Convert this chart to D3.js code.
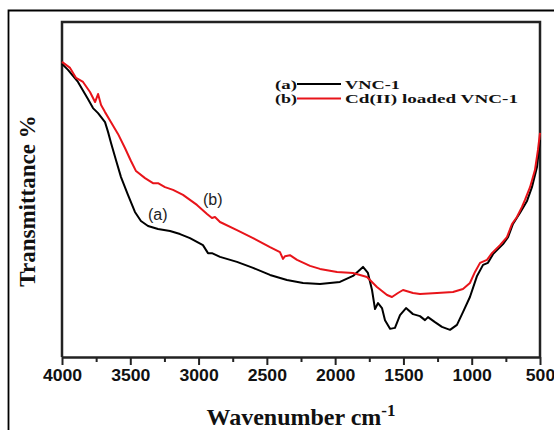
<!DOCTYPE html>
<html><head><meta charset="utf-8">
<script src="https://cdn.jsdelivr.net/npm/d3@7/dist/d3.min.js"></script>
<style>body{margin:0;background:#fff}svg{display:block}</style>
</head><body>
<svg id="c" width="554" height="430"></svg>
<script>
// Wavenumber (cm-1) and relative transmittance
const wnA = [4000,3956,3883,3810,3773,3736,3685,3663,3641,3605,3568,3517,3466,3422,3370,3297,3209,3136,3063,2968,2931,2902,2843,2719,2601,2477,2353,2235,2111,1965,1869,1796,1760,1730,1708,1686,1657,1635,1598,1562,1525,1481,1430,1379,1342,1320,1269,1218,1159,1108,1064,1013,961,917,881,844,771,734,698,647,595,559,522,500];
const tA  = [87.5,85.7,82.1,77.0,74.3,72.8,70.1,67.2,63.9,58.8,53.7,48.4,43.3,40.6,39.1,38.2,37.6,36.7,35.5,33.4,31.0,31.0,29.9,28.4,26.6,24.5,23.0,22.1,21.8,22.4,24.2,26.9,25.1,20.0,14.3,16.1,14.6,11.0,8.4,8.7,12.5,14.6,12.8,12.2,11.0,11.9,10.4,9.0,8.1,9.6,13.4,17.9,24.2,27.5,28.1,30.7,33.7,35.8,39.7,43.0,46.6,50.7,56.7,64.8];
const wnB = [4000,3941,3897,3846,3795,3758,3736,3714,3685,3641,3590,3539,3495,3458,3392,3334,3297,3246,3187,3114,3012,2938,2902,2880,2843,2719,2601,2477,2404,2382,2367,2331,2279,2184,2111,1986,1869,1767,1694,1620,1584,1540,1503,1430,1379,1254,1137,1064,1013,976,939,888,852,793,742,705,669,632,610,573,537,515,500];
const tB  = [88.1,86.3,83.3,82.1,79.1,76.1,78.5,75.2,73.1,70.1,66.6,62.4,58.5,55.5,53.4,51.9,51.9,50.7,49.9,48.4,45.4,42.7,41.5,41.8,40.3,37.9,35.5,32.8,31.3,29.3,30.1,30.4,29.0,27.2,26.3,25.4,25.1,23.9,20.9,18.5,17.9,19.1,20.0,19.1,18.8,19.1,19.4,20.3,22.1,25.4,28.1,29.0,31.0,33.4,35.8,39.7,41.8,44.8,46.9,50.7,55.8,61.8,66.9];
const xTicks = [4000,3500,3000,2500,2000,1500,1000,500];
const xMinor = [3750,3250,2750,2250,1750,1250,750];
const legendLabels = ["(a)", "(b)"];
const legendNames = ["VNC-1", "Cd(II) loaded VNC-1"];
const seriesColors = ["#000000", "#e8141a"];

const svg = d3.select("#c");
const L = 62, R = 540, T = 22, B = 357;
const x = d3.scaleLinear().domain([4000, 500]).range([L, R]);
const y = d3.scaleLinear().domain([0, 100]).range([B, T]);

// outer frame
svg.append("path").attr("d", "M8.5,431 L8.5,10.5 L555,10.5")
  .attr("fill", "none").attr("stroke", "#000").attr("stroke-width", 1.8);

// plot box (left, top, right)
svg.append("path").attr("d", `M${L},${B} L${L},${T} L${R},${T} L${R},${B}`)
  .attr("fill", "none").attr("stroke", "#222").attr("stroke-width", 2.5);

// bottom axis
const ax = svg.append("g").attr("transform", `translate(0,${B})`)
  .call(d3.axisBottom(x).tickValues(xTicks).tickSize(8).tickSizeOuter(0).tickPadding(5).tickFormat(d3.format("d")));
ax.select(".domain").attr("stroke", "#222").attr("stroke-width", 2.5);
ax.selectAll(".tick line").attr("stroke", "#222").attr("stroke-width", 2);
ax.selectAll(".tick text").attr("font-family", "'Liberation Sans', Arial, sans-serif")
  .attr("font-weight", "bold").attr("font-size", 16).attr("fill", "#111")
  .attr("textLength", d => String(d).length * 9.8).attr("lengthAdjust", "spacingAndGlyphs");
const axm = svg.append("g").attr("transform", `translate(0,${B})`)
  .call(d3.axisBottom(x).tickValues(xMinor).tickSize(5).tickFormat(""));
axm.select(".domain").remove();
axm.selectAll(".tick line").attr("stroke", "#222").attr("stroke-width", 2);

// curves
const line = d3.line().x(d => x(d[0])).y(d => y(d[1]));
const dataA = wnA.map((w, i) => [w, tA[i]]);
const dataB = wnB.map((w, i) => [w, tB[i]]);
svg.append("path").datum(dataA).attr("d", line).attr("fill", "none")
  .attr("stroke", seriesColors[0]).attr("stroke-width", 2).attr("stroke-linejoin", "round");
svg.append("path").datum(dataB).attr("d", line).attr("fill", "none")
  .attr("stroke", seriesColors[1]).attr("stroke-width", 2).attr("stroke-linejoin", "round");

// annotations
svg.append("text").attr("x", 148).attr("y", 220).text("(a)")
  .attr("font-family", "'Liberation Sans', Arial, sans-serif").attr("font-size", 16).attr("fill", "#222");
svg.append("text").attr("x", 203).attr("y", 205).text("(b)")
  .attr("font-family", "'Liberation Sans', Arial, sans-serif").attr("font-size", 16).attr("fill", "#222");

// legend
const serif = "'Liberation Serif', 'Times New Roman', serif";
const lg = svg.append("g");
const nameLen = [55, 173];
[88.5, 103].forEach((by, i) => {
  lg.append("text").attr("x", 275).attr("y", by).text(legendLabels[i])
    .attr("font-family", serif).attr("font-weight", "bold").attr("font-size", 13).attr("fill", "#111")
    .attr("textLength", 22).attr("lengthAdjust", "spacingAndGlyphs");
  lg.append("line").attr("x1", 297).attr("x2", 341).attr("y1", by - 4.5).attr("y2", by - 4.5)
    .attr("stroke", seriesColors[i]).attr("stroke-width", 2);
  lg.append("text").attr("x", 345).attr("y", by).text(legendNames[i])
    .attr("font-family", serif).attr("font-weight", "bold").attr("font-size", 13).attr("fill", "#111")
    .attr("textLength", nameLen[i]).attr("lengthAdjust", "spacingAndGlyphs");
});

// axis titles
const xt = svg.append("text").attr("x", 301).attr("y", 425).attr("text-anchor", "middle")
  .attr("font-family", serif).attr("font-weight", "bold").attr("font-size", 24).attr("fill", "#111");
xt.append("tspan").text("Wavenumber cm");
xt.append("tspan").attr("dy", -9).attr("font-size", 17).text("-1");

svg.append("text").attr("transform", "translate(35,201) rotate(-90)").attr("text-anchor", "middle")
  .attr("font-family", serif).attr("font-weight", "bold").attr("font-size", 23).attr("fill", "#111")
  .text("Transmittance %");
</script>
</body></html>
